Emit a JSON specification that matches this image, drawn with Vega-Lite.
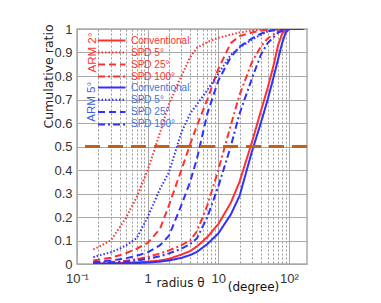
{
  "$schema": "https://vega.github.io/schema/vega-lite/v6.json",
  "width": 230,
  "height": 235,
  "autosize": "none",
  "padding": {"left": 77, "top": 29, "right": 74, "bottom": 39},
  "background": "white",
  "config": {
    "view": {"stroke": "#aaaaaa", "strokeWidth": 1.5},
    "font": "Liberation Sans",
    "axisY": {
      "labelOverlap": false, "labelBound": false, "labelFlush": false,
      "labelFont": "Liberation Sans", "labelFontSize": 13, "labelColor": "#333333", "labelPadding": 5,
      "ticks": false, "domain": false, "grid": true, "gridColor": "#aaaaaa", "gridWidth": 1,
      "titleX": -25, "titleY": 47, "titleAngle": -90, "titleAlign": "center", "titleBaseline": "alphabetic",
      "titleFont": "DejaVu Sans", "titleFontSize": 12.5, "titleFontWeight": "normal", "titleColor": "#222222"
    }
  },
  "datasets": {
    "curves": [
      {"arm":"ARM 2°","setting":"Conventional","radius":0.17,"ratio":0.002},
      {"arm":"ARM 2°","setting":"Conventional","radius":0.2,"ratio":0.002},
      {"arm":"ARM 2°","setting":"Conventional","radius":0.3,"ratio":0.003},
      {"arm":"ARM 2°","setting":"Conventional","radius":0.4,"ratio":0.004},
      {"arm":"ARM 2°","setting":"Conventional","radius":0.5,"ratio":0.005},
      {"arm":"ARM 2°","setting":"Conventional","radius":0.7,"ratio":0.007},
      {"arm":"ARM 2°","setting":"Conventional","radius":1,"ratio":0.01},
      {"arm":"ARM 2°","setting":"Conventional","radius":1.5,"ratio":0.015},
      {"arm":"ARM 2°","setting":"Conventional","radius":2,"ratio":0.022},
      {"arm":"ARM 2°","setting":"Conventional","radius":3,"ratio":0.04},
      {"arm":"ARM 2°","setting":"Conventional","radius":4,"ratio":0.055},
      {"arm":"ARM 2°","setting":"Conventional","radius":5,"ratio":0.075},
      {"arm":"ARM 2°","setting":"Conventional","radius":7,"ratio":0.115},
      {"arm":"ARM 2°","setting":"Conventional","radius":10,"ratio":0.17},
      {"arm":"ARM 2°","setting":"Conventional","radius":15,"ratio":0.26},
      {"arm":"ARM 2°","setting":"Conventional","radius":20,"ratio":0.35},
      {"arm":"ARM 2°","setting":"Conventional","radius":30,"ratio":0.52},
      {"arm":"ARM 2°","setting":"Conventional","radius":40,"ratio":0.65},
      {"arm":"ARM 2°","setting":"Conventional","radius":50,"ratio":0.75},
      {"arm":"ARM 2°","setting":"Conventional","radius":60,"ratio":0.84},
      {"arm":"ARM 2°","setting":"Conventional","radius":70,"ratio":0.93},
      {"arm":"ARM 2°","setting":"Conventional","radius":80,"ratio":0.98},
      {"arm":"ARM 2°","setting":"Conventional","radius":90,"ratio":0.995},
      {"arm":"ARM 2°","setting":"Conventional","radius":100,"ratio":1},
      {"arm":"ARM 2°","setting":"Conventional","radius":160,"ratio":1},
      {"arm":"ARM 2°","setting":"SPD 5°","radius":0.17,"ratio":0.062},
      {"arm":"ARM 2°","setting":"SPD 5°","radius":0.2,"ratio":0.072},
      {"arm":"ARM 2°","setting":"SPD 5°","radius":0.3,"ratio":0.1},
      {"arm":"ARM 2°","setting":"SPD 5°","radius":0.4,"ratio":0.155},
      {"arm":"ARM 2°","setting":"SPD 5°","radius":0.5,"ratio":0.2},
      {"arm":"ARM 2°","setting":"SPD 5°","radius":0.7,"ratio":0.285},
      {"arm":"ARM 2°","setting":"SPD 5°","radius":1,"ratio":0.4},
      {"arm":"ARM 2°","setting":"SPD 5°","radius":1.5,"ratio":0.56},
      {"arm":"ARM 2°","setting":"SPD 5°","radius":2,"ratio":0.68},
      {"arm":"ARM 2°","setting":"SPD 5°","radius":3,"ratio":0.8},
      {"arm":"ARM 2°","setting":"SPD 5°","radius":4,"ratio":0.88},
      {"arm":"ARM 2°","setting":"SPD 5°","radius":5,"ratio":0.92},
      {"arm":"ARM 2°","setting":"SPD 5°","radius":7,"ratio":0.945},
      {"arm":"ARM 2°","setting":"SPD 5°","radius":10,"ratio":0.962},
      {"arm":"ARM 2°","setting":"SPD 5°","radius":15,"ratio":0.976},
      {"arm":"ARM 2°","setting":"SPD 5°","radius":20,"ratio":0.985},
      {"arm":"ARM 2°","setting":"SPD 5°","radius":30,"ratio":0.993},
      {"arm":"ARM 2°","setting":"SPD 5°","radius":40,"ratio":0.997},
      {"arm":"ARM 2°","setting":"SPD 5°","radius":50,"ratio":0.999},
      {"arm":"ARM 2°","setting":"SPD 5°","radius":70,"ratio":1},
      {"arm":"ARM 2°","setting":"SPD 5°","radius":100,"ratio":1},
      {"arm":"ARM 2°","setting":"SPD 5°","radius":160,"ratio":1},
      {"arm":"ARM 2°","setting":"SPD 25°","radius":0.17,"ratio":0.015},
      {"arm":"ARM 2°","setting":"SPD 25°","radius":0.2,"ratio":0.018},
      {"arm":"ARM 2°","setting":"SPD 25°","radius":0.3,"ratio":0.027},
      {"arm":"ARM 2°","setting":"SPD 25°","radius":0.4,"ratio":0.037},
      {"arm":"ARM 2°","setting":"SPD 25°","radius":0.5,"ratio":0.047},
      {"arm":"ARM 2°","setting":"SPD 25°","radius":0.7,"ratio":0.065},
      {"arm":"ARM 2°","setting":"SPD 25°","radius":1,"ratio":0.09},
      {"arm":"ARM 2°","setting":"SPD 25°","radius":1.5,"ratio":0.15},
      {"arm":"ARM 2°","setting":"SPD 25°","radius":2,"ratio":0.25},
      {"arm":"ARM 2°","setting":"SPD 25°","radius":3,"ratio":0.4},
      {"arm":"ARM 2°","setting":"SPD 25°","radius":4,"ratio":0.51},
      {"arm":"ARM 2°","setting":"SPD 25°","radius":5,"ratio":0.59},
      {"arm":"ARM 2°","setting":"SPD 25°","radius":7,"ratio":0.7},
      {"arm":"ARM 2°","setting":"SPD 25°","radius":10,"ratio":0.83},
      {"arm":"ARM 2°","setting":"SPD 25°","radius":15,"ratio":0.94},
      {"arm":"ARM 2°","setting":"SPD 25°","radius":20,"ratio":0.97},
      {"arm":"ARM 2°","setting":"SPD 25°","radius":30,"ratio":0.985},
      {"arm":"ARM 2°","setting":"SPD 25°","radius":40,"ratio":0.993},
      {"arm":"ARM 2°","setting":"SPD 25°","radius":50,"ratio":0.997},
      {"arm":"ARM 2°","setting":"SPD 25°","radius":70,"ratio":1},
      {"arm":"ARM 2°","setting":"SPD 25°","radius":100,"ratio":1},
      {"arm":"ARM 2°","setting":"SPD 25°","radius":160,"ratio":1},
      {"arm":"ARM 2°","setting":"SPD 100°","radius":0.17,"ratio":0.004},
      {"arm":"ARM 2°","setting":"SPD 100°","radius":0.2,"ratio":0.005},
      {"arm":"ARM 2°","setting":"SPD 100°","radius":0.3,"ratio":0.008},
      {"arm":"ARM 2°","setting":"SPD 100°","radius":0.4,"ratio":0.011},
      {"arm":"ARM 2°","setting":"SPD 100°","radius":0.5,"ratio":0.014},
      {"arm":"ARM 2°","setting":"SPD 100°","radius":0.7,"ratio":0.02},
      {"arm":"ARM 2°","setting":"SPD 100°","radius":1,"ratio":0.03},
      {"arm":"ARM 2°","setting":"SPD 100°","radius":1.5,"ratio":0.045},
      {"arm":"ARM 2°","setting":"SPD 100°","radius":2,"ratio":0.058},
      {"arm":"ARM 2°","setting":"SPD 100°","radius":3,"ratio":0.08},
      {"arm":"ARM 2°","setting":"SPD 100°","radius":4,"ratio":0.1},
      {"arm":"ARM 2°","setting":"SPD 100°","radius":5,"ratio":0.14},
      {"arm":"ARM 2°","setting":"SPD 100°","radius":7,"ratio":0.25},
      {"arm":"ARM 2°","setting":"SPD 100°","radius":10,"ratio":0.4},
      {"arm":"ARM 2°","setting":"SPD 100°","radius":15,"ratio":0.59},
      {"arm":"ARM 2°","setting":"SPD 100°","radius":20,"ratio":0.72},
      {"arm":"ARM 2°","setting":"SPD 100°","radius":30,"ratio":0.86},
      {"arm":"ARM 2°","setting":"SPD 100°","radius":40,"ratio":0.925},
      {"arm":"ARM 2°","setting":"SPD 100°","radius":50,"ratio":0.96},
      {"arm":"ARM 2°","setting":"SPD 100°","radius":70,"ratio":0.99},
      {"arm":"ARM 2°","setting":"SPD 100°","radius":100,"ratio":1},
      {"arm":"ARM 2°","setting":"SPD 100°","radius":160,"ratio":1},
      {"arm":"ARM 5°","setting":"Conventional","radius":0.17,"ratio":0.001},
      {"arm":"ARM 5°","setting":"Conventional","radius":0.2,"ratio":0.001},
      {"arm":"ARM 5°","setting":"Conventional","radius":0.3,"ratio":0.002},
      {"arm":"ARM 5°","setting":"Conventional","radius":0.4,"ratio":0.002},
      {"arm":"ARM 5°","setting":"Conventional","radius":0.5,"ratio":0.003},
      {"arm":"ARM 5°","setting":"Conventional","radius":0.7,"ratio":0.004},
      {"arm":"ARM 5°","setting":"Conventional","radius":1,"ratio":0.006},
      {"arm":"ARM 5°","setting":"Conventional","radius":1.5,"ratio":0.01},
      {"arm":"ARM 5°","setting":"Conventional","radius":2,"ratio":0.015},
      {"arm":"ARM 5°","setting":"Conventional","radius":3,"ratio":0.026},
      {"arm":"ARM 5°","setting":"Conventional","radius":4,"ratio":0.038},
      {"arm":"ARM 5°","setting":"Conventional","radius":5,"ratio":0.052},
      {"arm":"ARM 5°","setting":"Conventional","radius":7,"ratio":0.085},
      {"arm":"ARM 5°","setting":"Conventional","radius":10,"ratio":0.13},
      {"arm":"ARM 5°","setting":"Conventional","radius":15,"ratio":0.21},
      {"arm":"ARM 5°","setting":"Conventional","radius":20,"ratio":0.29},
      {"arm":"ARM 5°","setting":"Conventional","radius":30,"ratio":0.48},
      {"arm":"ARM 5°","setting":"Conventional","radius":40,"ratio":0.6},
      {"arm":"ARM 5°","setting":"Conventional","radius":50,"ratio":0.7},
      {"arm":"ARM 5°","setting":"Conventional","radius":60,"ratio":0.79},
      {"arm":"ARM 5°","setting":"Conventional","radius":70,"ratio":0.87},
      {"arm":"ARM 5°","setting":"Conventional","radius":80,"ratio":0.94},
      {"arm":"ARM 5°","setting":"Conventional","radius":90,"ratio":0.985},
      {"arm":"ARM 5°","setting":"Conventional","radius":100,"ratio":1},
      {"arm":"ARM 5°","setting":"Conventional","radius":160,"ratio":1},
      {"arm":"ARM 5°","setting":"SPD 5°","radius":0.17,"ratio":0.029},
      {"arm":"ARM 5°","setting":"SPD 5°","radius":0.2,"ratio":0.035},
      {"arm":"ARM 5°","setting":"SPD 5°","radius":0.3,"ratio":0.05},
      {"arm":"ARM 5°","setting":"SPD 5°","radius":0.4,"ratio":0.065},
      {"arm":"ARM 5°","setting":"SPD 5°","radius":0.5,"ratio":0.08},
      {"arm":"ARM 5°","setting":"SPD 5°","radius":0.7,"ratio":0.11},
      {"arm":"ARM 5°","setting":"SPD 5°","radius":1,"ratio":0.2},
      {"arm":"ARM 5°","setting":"SPD 5°","radius":1.5,"ratio":0.32},
      {"arm":"ARM 5°","setting":"SPD 5°","radius":2,"ratio":0.39},
      {"arm":"ARM 5°","setting":"SPD 5°","radius":3,"ratio":0.56},
      {"arm":"ARM 5°","setting":"SPD 5°","radius":4,"ratio":0.64},
      {"arm":"ARM 5°","setting":"SPD 5°","radius":5,"ratio":0.68},
      {"arm":"ARM 5°","setting":"SPD 5°","radius":7,"ratio":0.74},
      {"arm":"ARM 5°","setting":"SPD 5°","radius":10,"ratio":0.81},
      {"arm":"ARM 5°","setting":"SPD 5°","radius":15,"ratio":0.89},
      {"arm":"ARM 5°","setting":"SPD 5°","radius":20,"ratio":0.92},
      {"arm":"ARM 5°","setting":"SPD 5°","radius":30,"ratio":0.955},
      {"arm":"ARM 5°","setting":"SPD 5°","radius":40,"ratio":0.975},
      {"arm":"ARM 5°","setting":"SPD 5°","radius":50,"ratio":0.99},
      {"arm":"ARM 5°","setting":"SPD 5°","radius":70,"ratio":0.998},
      {"arm":"ARM 5°","setting":"SPD 5°","radius":100,"ratio":1},
      {"arm":"ARM 5°","setting":"SPD 5°","radius":160,"ratio":1},
      {"arm":"ARM 5°","setting":"SPD 25°","radius":0.17,"ratio":0.008},
      {"arm":"ARM 5°","setting":"SPD 25°","radius":0.2,"ratio":0.01},
      {"arm":"ARM 5°","setting":"SPD 25°","radius":0.3,"ratio":0.015},
      {"arm":"ARM 5°","setting":"SPD 25°","radius":0.4,"ratio":0.02},
      {"arm":"ARM 5°","setting":"SPD 25°","radius":0.5,"ratio":0.025},
      {"arm":"ARM 5°","setting":"SPD 25°","radius":0.7,"ratio":0.035},
      {"arm":"ARM 5°","setting":"SPD 25°","radius":1,"ratio":0.05},
      {"arm":"ARM 5°","setting":"SPD 25°","radius":1.5,"ratio":0.08},
      {"arm":"ARM 5°","setting":"SPD 25°","radius":2,"ratio":0.12},
      {"arm":"ARM 5°","setting":"SPD 25°","radius":3,"ratio":0.25},
      {"arm":"ARM 5°","setting":"SPD 25°","radius":4,"ratio":0.35},
      {"arm":"ARM 5°","setting":"SPD 25°","radius":5,"ratio":0.45},
      {"arm":"ARM 5°","setting":"SPD 25°","radius":7,"ratio":0.64},
      {"arm":"ARM 5°","setting":"SPD 25°","radius":10,"ratio":0.78},
      {"arm":"ARM 5°","setting":"SPD 25°","radius":15,"ratio":0.88},
      {"arm":"ARM 5°","setting":"SPD 25°","radius":20,"ratio":0.925},
      {"arm":"ARM 5°","setting":"SPD 25°","radius":30,"ratio":0.96},
      {"arm":"ARM 5°","setting":"SPD 25°","radius":40,"ratio":0.98},
      {"arm":"ARM 5°","setting":"SPD 25°","radius":50,"ratio":0.99},
      {"arm":"ARM 5°","setting":"SPD 25°","radius":70,"ratio":0.998},
      {"arm":"ARM 5°","setting":"SPD 25°","radius":100,"ratio":1},
      {"arm":"ARM 5°","setting":"SPD 25°","radius":160,"ratio":1},
      {"arm":"ARM 5°","setting":"SPD 100°","radius":0.17,"ratio":0.003},
      {"arm":"ARM 5°","setting":"SPD 100°","radius":0.2,"ratio":0.004},
      {"arm":"ARM 5°","setting":"SPD 100°","radius":0.3,"ratio":0.006},
      {"arm":"ARM 5°","setting":"SPD 100°","radius":0.4,"ratio":0.008},
      {"arm":"ARM 5°","setting":"SPD 100°","radius":0.5,"ratio":0.01},
      {"arm":"ARM 5°","setting":"SPD 100°","radius":0.7,"ratio":0.015},
      {"arm":"ARM 5°","setting":"SPD 100°","radius":1,"ratio":0.022},
      {"arm":"ARM 5°","setting":"SPD 100°","radius":1.5,"ratio":0.033},
      {"arm":"ARM 5°","setting":"SPD 100°","radius":2,"ratio":0.045},
      {"arm":"ARM 5°","setting":"SPD 100°","radius":3,"ratio":0.065},
      {"arm":"ARM 5°","setting":"SPD 100°","radius":4,"ratio":0.085},
      {"arm":"ARM 5°","setting":"SPD 100°","radius":5,"ratio":0.11},
      {"arm":"ARM 5°","setting":"SPD 100°","radius":7,"ratio":0.2},
      {"arm":"ARM 5°","setting":"SPD 100°","radius":10,"ratio":0.33},
      {"arm":"ARM 5°","setting":"SPD 100°","radius":15,"ratio":0.5},
      {"arm":"ARM 5°","setting":"SPD 100°","radius":20,"ratio":0.64},
      {"arm":"ARM 5°","setting":"SPD 100°","radius":30,"ratio":0.79},
      {"arm":"ARM 5°","setting":"SPD 100°","radius":40,"ratio":0.89},
      {"arm":"ARM 5°","setting":"SPD 100°","radius":50,"ratio":0.94},
      {"arm":"ARM 5°","setting":"SPD 100°","radius":70,"ratio":0.985},
      {"arm":"ARM 5°","setting":"SPD 100°","radius":100,"ratio":1},
      {"arm":"ARM 5°","setting":"SPD 100°","radius":160,"ratio":1}
    ]
  },
  "layer": [
    {
      "data": {"name": "curves"},
      "transform": [{"filter": "datum.arm === 'ARM 2°'"}],
      "mark": {"type": "line", "strokeWidth": 2, "clip": true},
      "encoding": {
        "x": {
          "field": "radius", "type": "quantitative",
          "scale": {"type": "log", "domain": [0.1, 180], "nice": false},
          "axis": {
            "values": [0.1,0.2,0.3,0.4,0.5,0.6,0.7,0.8,0.9,1,2,3,4,5,6,7,8,9,10,20,30,40,50,60,70,80,90,100],
            "labelExpr": "datum.value == 0.1 ? '10⁻¹' : datum.value == 1 ? '1' : datum.value == 10 ? '10' : datum.value == 100 ? '10²' : ''",
            "labelFlush": false, "labelOverlap": false, "labelBound": false,
            "labelFont": "Liberation Sans", "labelFontSize": 13, "labelColor": "#333333", "labelPadding": 8,
            "ticks": false, "domain": false,
            "grid": true,
            "gridColor": {"condition": {"test": "indexof([0.1,1,10,100], datum.value) >= 0", "value": "#aaaaaa"}, "value": "#999999"},
            "gridDash": {"condition": {"test": "indexof([0.1,1,10,100], datum.value) >= 0", "value": []}, "value": [2, 2]},
            "gridWidth": 1,
            "title": "radius θ",
            "titleX": 103, "titleY": 22, "titleAlign": "center", "titleBaseline": "alphabetic",
            "titleFont": "DejaVu Sans", "titleFontSize": 12, "titleFontWeight": "normal", "titleColor": "#222222"
          }
        },
        "y": {
          "field": "ratio", "type": "quantitative",
          "scale": {"domain": [0, 1], "nice": false},
          "axis": {
            "values": [0,0.1,0.2,0.3,0.4,0.5,0.6,0.7,0.8,0.9,1],
            "labelExpr": "datum.value == 0 ? '0' : datum.value == 1 ? '1' : format(datum.value, '.1f')",
            "title": "Cumulative ratio"
          }
        },
        "color": {
          "field": "setting", "type": "nominal",
          "scale": {"domain": ["Conventional", "SPD 5°", "SPD 25°", "SPD 100°"], "range": ["#ff3030", "#ff3030", "#ff3030", "#ff3030"]},
          "legend": {
            "orient": "none", "legendX": 20, "legendY": 5, "title": null,
            "labelColor": "#ff3030", "labelFont": "Liberation Sans", "labelFontSize": 10, "labelOffset": 21,
            "symbolType": "M-1,0H4", "symbolSize": 121, "symbolStrokeWidth": 2, "rowPadding": 0, "padding": 0
          }
        },
        "strokeDash": {
          "field": "setting", "type": "nominal",
          "scale": {"domain": ["Conventional", "SPD 5°", "SPD 25°", "SPD 100°"], "range": [[1, 0], [1.5, 2], [7, 4], [7, 3, 2, 3]]},
          "legend": {
            "orient": "none", "legendX": 20, "legendY": 5, "title": null,
            "labelColor": "#ff3030", "labelFont": "Liberation Sans", "labelFontSize": 10, "labelOffset": 21,
            "symbolType": "M-1,0H4", "symbolSize": 121, "symbolStrokeWidth": 2, "rowPadding": 0, "padding": 0
          }
        },
        "detail": {"field": "setting"}
      }
    },
    {
      "data": {"name": "curves"},
      "transform": [{"filter": "datum.arm === 'ARM 5°'"}],
      "mark": {"type": "line", "strokeWidth": 2, "clip": true},
      "encoding": {
        "x": {
          "field": "radius", "type": "quantitative",
          "axis": {
            "orient": "bottom", "labels": false, "ticks": false, "domain": false, "grid": false,
            "title": "(degree)",
            "titleX": 176, "titleY": 26, "titleAlign": "center", "titleBaseline": "alphabetic",
            "titleFont": "DejaVu Sans", "titleFontSize": 12, "titleFontWeight": "normal", "titleColor": "#111111"
          }
        },
        "y": {
          "field": "ratio", "type": "quantitative",
          "axis": {
            "values": [0,0.1,0.2,0.3,0.4,0.5,0.6,0.7,0.8,0.9,1],
            "labelExpr": "datum.value == 0 ? '0' : datum.value == 1 ? '1' : format(datum.value, '.1f')",
            "title": "Cumulative ratio"
          }
        },
        "color": {
          "field": "setting", "type": "nominal",
          "scale": {"domain": ["Conventional", "SPD 5°", "SPD 25°", "SPD 100°"], "range": ["#3030ff", "#3030ff", "#3030ff", "#3030ff"]},
          "legend": {
            "orient": "none", "legendX": 20, "legendY": 52, "title": null,
            "labelColor": "#3f74d6", "labelFont": "Liberation Sans", "labelFontSize": 10, "labelOffset": 21,
            "symbolType": "M-1,0H4", "symbolSize": 121, "symbolStrokeWidth": 2, "rowPadding": 0.3, "padding": 0
          }
        },
        "strokeDash": {
          "field": "setting", "type": "nominal",
          "scale": {"domain": ["Conventional", "SPD 5°", "SPD 25°", "SPD 100°"], "range": [[1, 0], [1.5, 2], [7, 4], [7, 3, 2, 3]]},
          "legend": {
            "orient": "none", "legendX": 20, "legendY": 52, "title": null,
            "labelColor": "#3f74d6", "labelFont": "Liberation Sans", "labelFontSize": 10, "labelOffset": 21,
            "symbolType": "M-1,0H4", "symbolSize": 121, "symbolStrokeWidth": 2, "rowPadding": 0.3, "padding": 0
          }
        },
        "detail": {"field": "setting"}
      }
    },
    {
      "data": {"values": [{"threshold": 0.5}]},
      "mark": {"type": "rule", "color": "#c4601c", "strokeWidth": 3, "strokeDash": [15, 8]},
      "encoding": {
        "y": {
          "field": "threshold", "type": "quantitative",
          "axis": {
            "values": [0,0.1,0.2,0.3,0.4,0.5,0.6,0.7,0.8,0.9,1],
            "labelExpr": "datum.value == 0 ? '0' : datum.value == 1 ? '1' : format(datum.value, '.1f')",
            "title": "Cumulative ratio"
          }
        }
      }
    },
    {
      "data": {"values": [{"group": "ARM 2°"}]},
      "mark": {"type": "text", "angle": 270, "align": "center", "baseline": "middle", "font": "Liberation Sans", "fontSize": 11.5, "color": "#ff3030"},
      "encoding": {
        "x": {"datum": 0.167, "type": "quantitative", "axis": null},
        "y": {
          "datum": 0.9, "type": "quantitative",
          "axis": {
            "values": [0,0.1,0.2,0.3,0.4,0.5,0.6,0.7,0.8,0.9,1],
            "labelExpr": "datum.value == 0 ? '0' : datum.value == 1 ? '1' : format(datum.value, '.1f')",
            "title": "Cumulative ratio"
          }
        },
        "text": {"field": "group"}
      }
    },
    {
      "data": {"values": [{"group": "ARM 5°"}]},
      "mark": {"type": "text", "angle": 270, "align": "center", "baseline": "middle", "font": "Liberation Sans", "fontSize": 11.5, "color": "#3a5fe0"},
      "encoding": {
        "x": {"datum": 0.164, "type": "quantitative", "axis": null},
        "y": {
          "datum": 0.69, "type": "quantitative",
          "axis": {
            "values": [0,0.1,0.2,0.3,0.4,0.5,0.6,0.7,0.8,0.9,1],
            "labelExpr": "datum.value == 0 ? '0' : datum.value == 1 ? '1' : format(datum.value, '.1f')",
            "title": "Cumulative ratio"
          }
        },
        "text": {"field": "group"}
      }
    }
  ],
  "resolve": {
    "scale": {"color": "independent", "strokeDash": "independent"},
    "axis": {"x": "independent"}
  }
}
